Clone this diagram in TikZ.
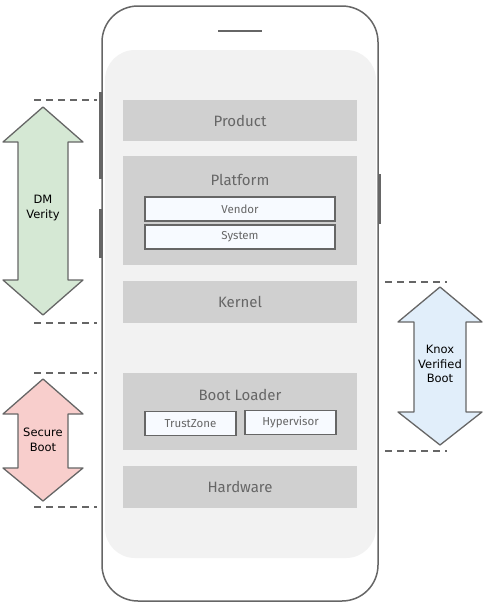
\documentclass[tikz,border=0pt]{standalone}
\usepackage{fontspec}
\setmainfont{Fira Sans}
\newfontfamily\arrowfont{DejaVu Sans}
\definecolor{framegray}{HTML}{666666}
\definecolor{screengray}{HTML}{F2F2F2}
\definecolor{layergray}{HTML}{D0D0D0}
\definecolor{subboxwhite}{HTML}{F7FAFF}
\definecolor{verifygreen}{HTML}{D5E8D4}
\definecolor{securered}{HTML}{F8CECC}
\definecolor{knoxblue}{HTML}{E1EEFA}

\tikzset{
  layer/.style={fill=layergray, minimum width=234pt, inner sep=0pt,
    text=framegray, font=\fontsize{15}{17}\selectfont},
  layertitle/.style={text=framegray, inner sep=0pt, font=\fontsize{15}{17}\selectfont},
  subbox/.style={draw=framegray, line width=1.2pt, fill=subboxwhite, inner sep=0pt,
    minimum height=24pt, text=framegray, font=\fontsize{11.5}{13}\selectfont},
  bootarrow/.style={draw=framegray, line width=1.3pt, line join=round},
  arrowtext/.style={align=center, inner sep=0pt, font=\arrowfont\fontsize{11.5}{14.5}\selectfont},
  guide/.style={draw=framegray, line width=1.2pt, dash pattern=on 7pt off 5pt}
}

\begin{document}
\begin{tikzpicture}[x=1pt, y=-1pt]
  \useasboundingbox (0,0) rectangle (484,608);

  % Phone body and side buttons
  \draw[framegray, line width=1.5pt, fill=framegray] (99.5,93) rectangle (102,178);
  \draw[framegray, line width=1.5pt, fill=framegray] (99.5,210) rectangle (102,257);
  \draw[framegray, line width=1.5pt, fill=framegray] (378,175) rectangle (380.5,223);
  \draw[framegray, line width=1.5pt, fill=white, rounded corners=36pt] (102,6) rectangle (378,601);
  \fill[screengray, rounded corners=30pt] (105,50) rectangle (376,558);
  \draw[framegray, line width=2pt] (218,31) -- (262,31);

  % Software layers
  \node[layer, minimum height=41pt] (product) at (240,120.5) {Product};
  \node[layer, minimum height=109pt] (platform) at (240,210.5) {};
  \node[layertitle] (platformtitle) at (240,179.5) {Platform};
  \node[subbox, minimum width=190pt] (vendor) at (240,209) {Vendor};
  \node[subbox, minimum width=190pt] (system) at (240,237) {System};
  \node[layer, minimum height=42pt] (kernel) at (240,302) {Kernel};
  \node[layer, minimum height=77pt] (bootloader) at (240,411.5) {};
  \node[layertitle] (bootloadertitle) at (240,394.5) {Boot Loader};
  \node[subbox, minimum width=91pt] (trustzone) at (190.5,423.5) {TrustZone};
  \node[subbox, minimum width=91pt] (hypervisor) at (290.5,422.5) {Hypervisor};
  \node[layer, minimum height=42pt] (hardware) at (240,487) {Hardware};

  % DM Verity
  \draw[guide] (34,100) -- (97,100);
  \draw[guide] (34,323) -- (97,323);
  \draw[bootarrow, fill=verifygreen] (43,107) -- (83,142) -- (68,142) -- (68,280) -- (83,280)
    -- (43,315) -- (3,280) -- (18,280) -- (18,142) -- (3,142) -- cycle;
  \node[arrowtext] (dmverity) at (43,208) {DM\\Verity};

  % Secure Boot
  \draw[guide] (34,373) -- (97,373);
  \draw[guide] (34,507) -- (97,507);
  \draw[bootarrow, fill=securered] (43,379) -- (83,414) -- (68,414) -- (68,468) -- (83,468)
    -- (43,501) -- (3,468) -- (18,468) -- (18,414) -- (3,414) -- cycle;
  \node[arrowtext] (secureboot) at (43,440) {Secure\\Boot};

  % Knox Verified Boot
  \draw[guide] (385,282) -- (447,282);
  \draw[guide] (385,451) -- (447,451);
  \draw[bootarrow, fill=knoxblue] (440,287) -- (482,322) -- (466,322) -- (466,412) -- (482,412)
    -- (440,445) -- (398,412) -- (414,412) -- (414,322) -- (398,322) -- cycle;
  \node[arrowtext] (knoxboot) at (440,364) {Knox\\Verified\\Boot};
\end{tikzpicture}
\end{document}
